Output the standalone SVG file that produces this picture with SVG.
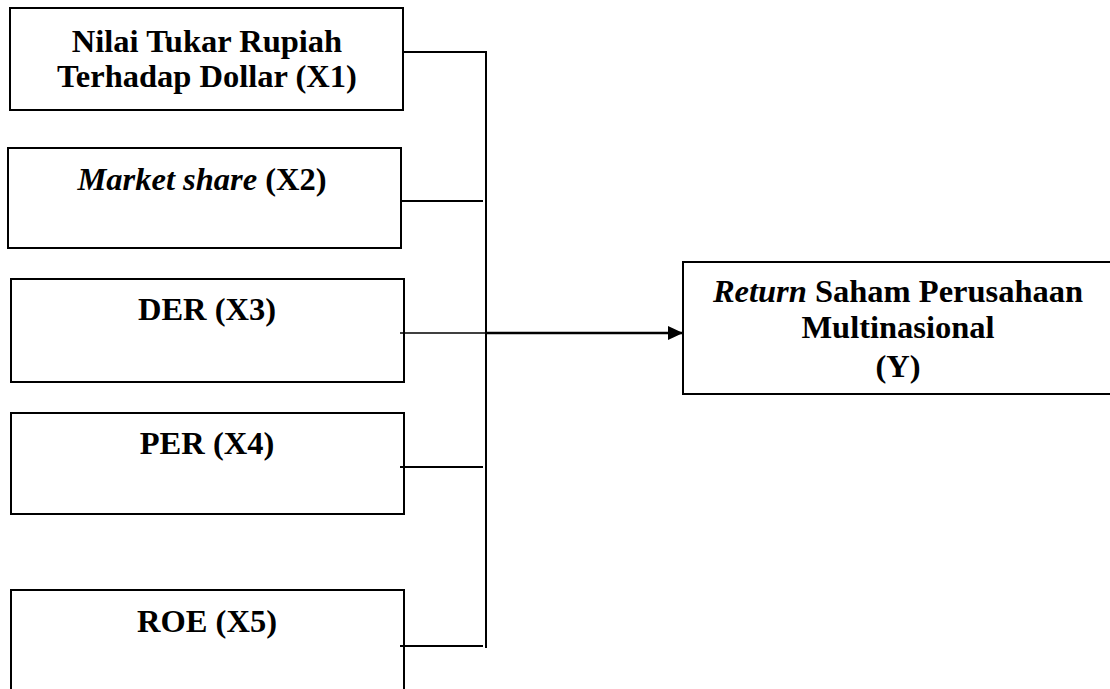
<svg xmlns="http://www.w3.org/2000/svg" width="1110" height="689" viewBox="0 0 1110 689">
<style>
.box{fill:#fff;stroke:#000;stroke-width:2}
.t{font-family:"Liberation Serif","Times New Roman",serif;font-weight:bold;font-size:32.5px;text-anchor:middle;fill:#000}
.i{font-style:italic}
.c{stroke:#000;stroke-width:2;fill:none}
</style>
<defs>
<marker id="arr" markerWidth="15" markerHeight="14" refX="15" refY="7" orient="auto" markerUnits="userSpaceOnUse">
<path d="M0,0 L15,7 L0,14 Z" fill="#000"/>
</marker>
</defs>
<rect width="1110" height="689" fill="#fff"/>
<g id="x1">
<rect class="box" x="10" y="8" width="393" height="102"/>
<text class="t" x="207" y="52">Nilai Tukar Rupiah</text>
<text class="t" x="207" y="87">Terhadap Dollar (X1)</text>
</g>
<g id="x2">
<rect class="box" x="8" y="148" width="393" height="100"/>
<text class="t" x="202" y="190"><tspan class="i">Market share</tspan> (X2)</text>
</g>
<g id="x3">
<rect class="box" x="11" y="279" width="393" height="103"/>
<text class="t" x="207" y="320">DER (X3)</text>
</g>
<g id="x4">
<rect class="box" x="11" y="413" width="393" height="101"/>
<text class="t" x="207" y="454">PER (X4)</text>
</g>
<g id="x5">
<rect class="box" x="11" y="590" width="393" height="120"/>
<text class="t" x="207" y="632">ROE (X5)</text>
</g>
<g id="y">
<rect class="box" x="683" y="262" width="430" height="132"/>
<text class="t" x="898" y="302"><tspan class="i">Return</tspan> Saham Perusahaan</text>
<text class="t" x="898" y="338">Multinasional</text>
<text class="t" x="898" y="377">(Y)</text>
</g>
<g id="connectors">
<line class="c" x1="486" y1="51" x2="486" y2="648"/>
<line class="c" x1="403" y1="52" x2="487" y2="52"/>
<line class="c" x1="401" y1="201" x2="483" y2="201"/>
<line class="c" x1="400" y1="333" x2="486" y2="333" style="stroke-width:1.5"/>
<line class="c" x1="486" y1="333" x2="683" y2="333" style="stroke-width:2.5" marker-end="url(#arr)"/>
<line class="c" x1="400" y1="467" x2="483" y2="467"/>
<line class="c" x1="400" y1="646" x2="483" y2="646"/>
</g>
</svg>
